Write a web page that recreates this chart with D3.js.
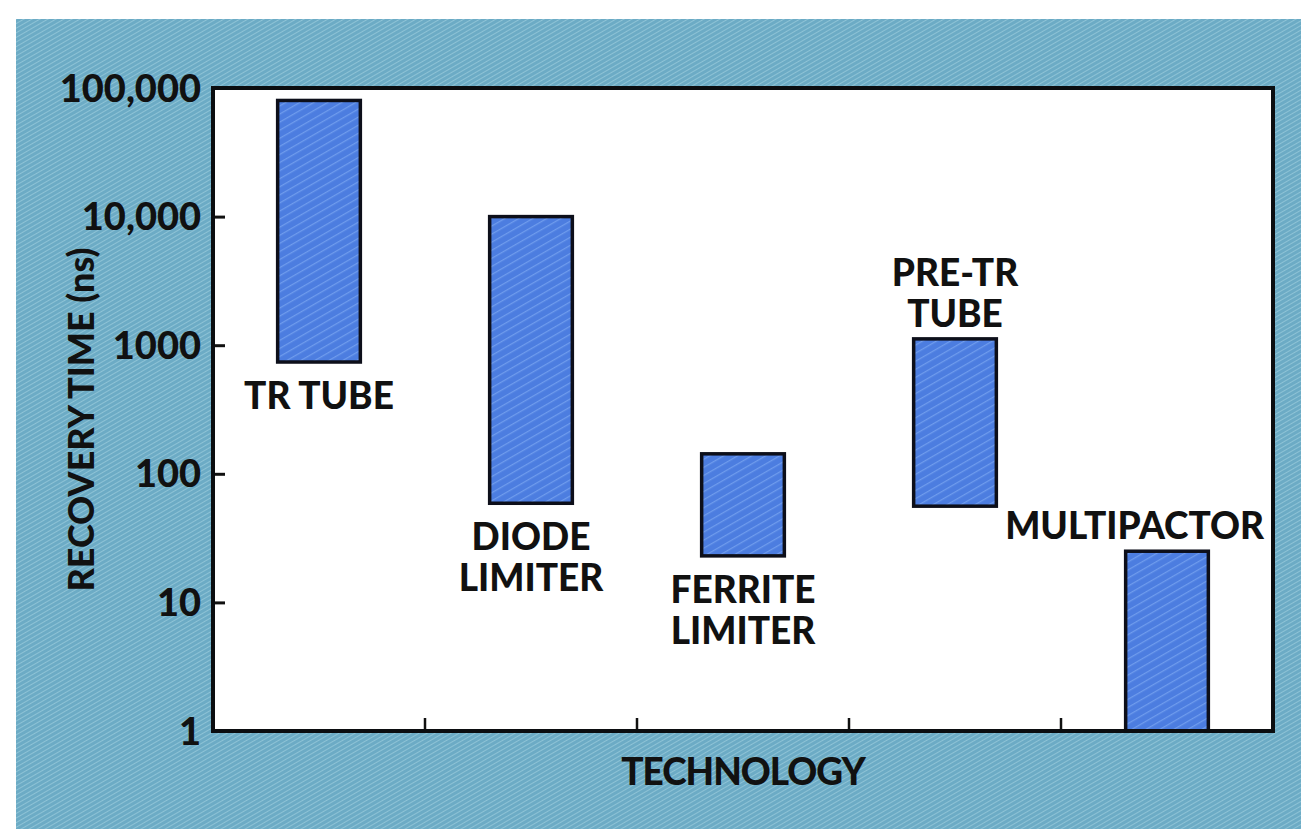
<!DOCTYPE html>
<html>
<head>
<meta charset="utf-8">
<script src="https://cdn.jsdelivr.net/npm/d3@7"></script>
<style>
  html, body { margin: 0; padding: 0; background: #fff; }
  svg { display: block; }
  text { font-family: Lato, "DejaVu Sans", sans-serif; font-weight: 900; fill: #111; }
</style>
</head>
<body>
<svg id="chart" width="1301" height="829"></svg>
<script>
// recovery time ranges (ns)
const categories = ["TR TUBE", "DIODE LIMITER", "FERRITE LIMITER", "PRE-TR TUBE", "MULTIPACTOR"];
const lowValues = [740, 59, 23, 56, 1];
const highValues = [80000, 10000, 143, 1120, 25];
const labelLines = [["TR TUBE"], ["DIODE", "LIMITER"], ["FERRITE", "LIMITER"], ["PRE-TR", "TUBE"], ["MULTIPACTOR"]];
const labelAbove = [false, false, false, true, true];
const yTicks = [1, 10, 100, 1000, 10000, 100000];
const yTickLabels = ["1", "10", "100", "1000", "10,000", "100,000"];

const svg = d3.select("#chart"),
    width = 1301,
    height = 829,
    margin = { top: 88, right: 28, bottom: 98, left: 213 };

const defs = svg.append("defs");

// textured backdrop
const bgPat = defs.append("pattern")
    .attr("id", "bgHatch")
    .attr("width", 4).attr("height", 4)
    .attr("patternUnits", "userSpaceOnUse")
    .attr("patternTransform", "rotate(60)");
bgPat.append("rect").attr("width", 4).attr("height", 4).attr("fill", "#6cabc5");
bgPat.append("line").attr("x1", 0).attr("y1", 0).attr("x2", 0).attr("y2", 4)
    .attr("stroke", "#9accdc").attr("stroke-width", 1.5);

const barPat = defs.append("pattern")
    .attr("id", "barHatch")
    .attr("width", 7).attr("height", 7)
    .attr("patternUnits", "userSpaceOnUse")
    .attr("patternTransform", "rotate(-30)");
barPat.append("rect").attr("width", 7).attr("height", 7).attr("fill", "#4c7de0");
barPat.append("line").attr("x1", 0).attr("y1", 0).attr("x2", 7).attr("y2", 0)
    .attr("stroke", "#6f9ced").attr("stroke-width", 2.5);

svg.append("rect")
    .attr("x", 16).attr("y", 19)
    .attr("width", width - 16).attr("height", height - 19)
    .attr("fill", "url(#bgHatch)");

const x = d3.scaleBand()
    .domain(categories)
    .range([margin.left, width - margin.right]);

const y = d3.scaleLog()
    .domain([1, 100000])
    .range([height - margin.bottom, margin.top]);

const barWidth = x.bandwidth() * 0.39;

// plot panel
svg.append("rect")
    .attr("x", margin.left)
    .attr("y", margin.top)
    .attr("width", width - margin.left - margin.right)
    .attr("height", height - margin.top - margin.bottom)
    .attr("fill", "#fff");

const bars = categories.map((c, i) => ({ category: c, low: lowValues[i], high: highValues[i], lines: labelLines[i], above: labelAbove[i] }));

svg.selectAll("rect.bar")
    .data(bars)
    .join("rect")
    .attr("class", "bar")
    .attr("x", d => x(d.category) + (x.bandwidth() - barWidth) / 2)
    .attr("width", barWidth)
    .attr("y", d => y(d.high))
    .attr("height", d => y(d.low) - y(d.high))
    .attr("fill", "url(#barHatch)")
    .attr("stroke", "#0d0f1a")
    .attr("stroke-width", 3.5);

// axes
const yAxis = svg.append("g")
    .attr("transform", `translate(${margin.left},0)`)
    .call(d3.axisRight(y).tickValues(yTicks).tickSize(12).tickFormat(""));
yAxis.select(".domain").remove();
yAxis.selectAll("line").attr("stroke", "#111").attr("stroke-width", 3);

svg.append("g")
    .selectAll("text")
    .data(yTicks)
    .join("text")
    .attr("x", margin.left - 12)
    .attr("y", d => y(d))
    .attr("dy", "0.36em")
    .attr("text-anchor", "end")
    .attr("font-size", 38)
    .text((d, i) => yTickLabels[i]);

// band separators on the bottom axis
svg.append("g")
    .selectAll("line")
    .data(categories.slice(1))
    .join("line")
    .attr("x1", d => x(d)).attr("x2", d => x(d))
    .attr("y1", height - margin.bottom).attr("y2", height - margin.bottom - 13)
    .attr("stroke", "#111").attr("stroke-width", 2.5);

svg.append("rect")
    .attr("x", margin.left)
    .attr("y", margin.top)
    .attr("width", width - margin.left - margin.right)
    .attr("height", height - margin.top - margin.bottom)
    .attr("fill", "none")
    .attr("stroke", "#0b0d10")
    .attr("stroke-width", 4);

// category labels
const lineGap = 41;
const plotRight = width - margin.right - 8;
bars.forEach(d => {
    const cx = x(d.category) + x.bandwidth() / 2;
    const n = d.lines.length;
    const base = d.above ? y(d.high) - 12 - (n - 1) * lineGap : y(d.low) + 47;
    const t = svg.append("text")
        .attr("text-anchor", "middle")
        .attr("font-size", 37);
    d.lines.forEach((ln, j) => {
        t.append("tspan").attr("x", cx).attr("y", base + j * lineGap).text(ln);
    });
    const box = t.node().getBBox();
    if (box.x + box.width > plotRight) {
        const shift = box.x + box.width - plotRight;
        t.selectAll("tspan").attr("x", cx - shift);
    }
});

// axis titles
svg.append("text")
    .attr("transform", `translate(94,${(y(10) + y(10000)) / 2 + 10}) rotate(-90)`)
    .attr("text-anchor", "middle")
    .attr("font-size", 36)
    .text("RECOVERY TIME (ns)");

svg.append("text")
    .attr("x", (margin.left + width - margin.right) / 2)
    .attr("y", height - 44)
    .attr("text-anchor", "middle")
    .attr("font-size", 37)
    .attr("letter-spacing", -1)
    .text("TECHNOLOGY");
</script>
</body>
</html>
